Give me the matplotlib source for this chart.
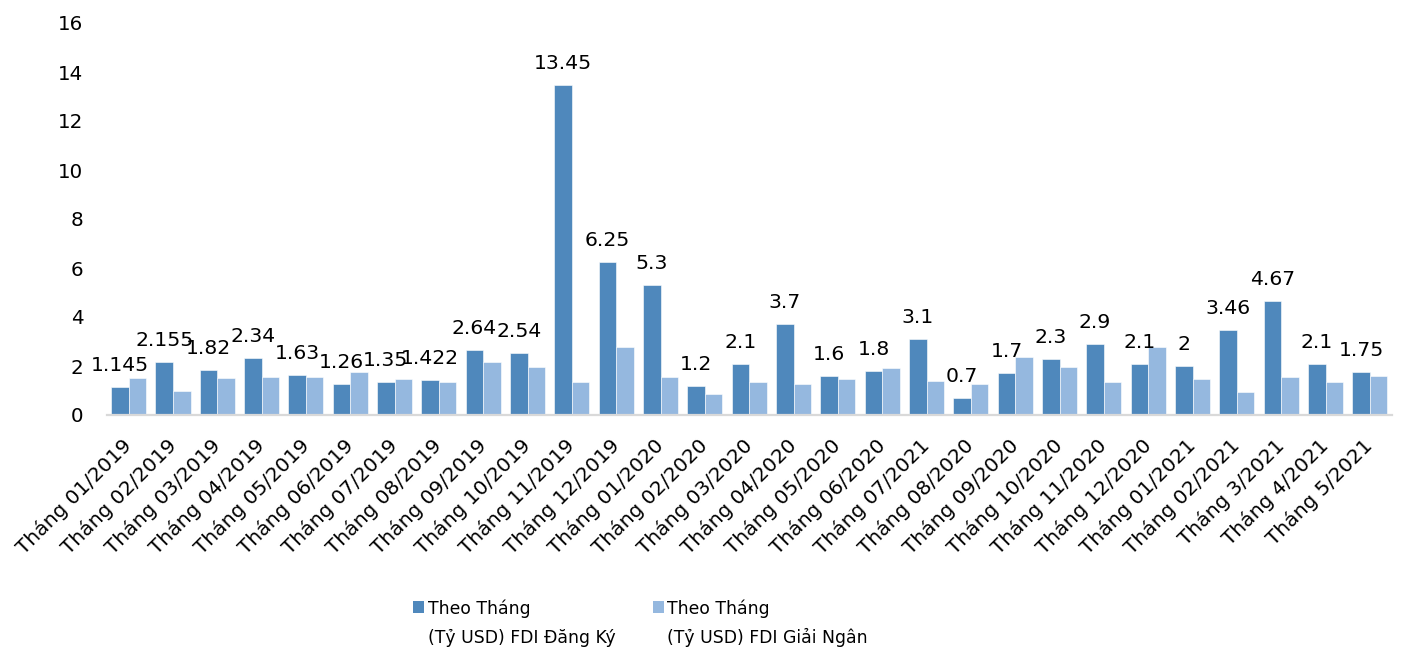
import matplotlib
matplotlib.use("Agg")
import matplotlib.pyplot as plt
import numpy as np
from matplotlib.patches import Rectangle

categories = [
    "Tháng 01/2019", "Tháng 02/2019", "Tháng 03/2019", "Tháng 04/2019",
    "Tháng 05/2019", "Tháng 06/2019", "Tháng 07/2019", "Tháng 08/2019",
    "Tháng 09/2019", "Tháng 10/2019", "Tháng 11/2019", "Tháng 12/2019",
    "Tháng 01/2020", "Tháng 02/2020", "Tháng 03/2020", "Tháng 04/2020",
    "Tháng 05/2020", "Tháng 06/2020", "Tháng 07/2021", "Tháng 08/2020",
    "Tháng 09/2020", "Tháng 10/2020", "Tháng 11/2020", "Tháng 12/2020",
    "Tháng 01/2021", "Tháng 02/2021", "Tháng 3/2021", "Tháng 4/2021",
    "Tháng 5/2021",
]
registered = [1.145, 2.155, 1.82, 2.34, 1.63, 1.26, 1.35, 1.422, 2.64, 2.54,
              13.45, 6.25, 5.3, 1.2, 2.1, 3.7, 1.6, 1.8, 3.1, 0.7, 1.7, 2.3,
              2.9, 2.1, 2, 3.46, 4.67, 2.1, 1.75]
registered_labels = ["1.145", "2.155", "1.82", "2.34", "1.63", "1.26", "1.35",
                     "1.422", "2.64", "2.54", "13.45", "6.25", "5.3", "1.2",
                     "2.1", "3.7", "1.6", "1.8", "3.1", "0.7", "1.7", "2.3",
                     "2.9", "2.1", "2", "3.46", "4.67", "2.1", "1.75"]
disbursed = [1.52, 0.98, 1.51, 1.54, 1.56, 1.76, 1.47, 1.35, 2.16, 1.96,
             1.35, 2.76, 1.56, 0.86, 1.35, 1.27, 1.47, 1.92, 1.40, 1.27,
             2.37, 1.96, 1.35, 2.76, 1.47, 0.94, 1.56, 1.35, 1.59]
legend_line1 = ["Theo Tháng", "Theo Tháng"]
legend_line2 = ["(Tỷ USD) FDI Đăng Ký", "(Tỷ USD) FDI Giải Ngân"]
yticks = [0, 2, 4, 6, 8, 10, 12, 14, 16]

DARK = "#4f88bc"
LIGHT = "#95b8df"

plt.rcParams["font.family"] = ["DejaVu Sans"]

W, H = 1402, 651
fig = plt.figure(figsize=(W / 100, H / 100), dpi=100)
ax = fig.add_axes([106.5 / W, 1 - 415 / H, (1392 - 106.5) / W, (415 - 23) / H])

x = np.arange(len(categories))
bw = 0.395
ax.bar(x - bw / 2, registered, bw, color=DARK, edgecolor="white", linewidth=0.4)
ax.bar(x + bw / 2, disbursed, bw, color=LIGHT, edgecolor="white", linewidth=0.4)

for xi, v, lab in zip(x, registered, registered_labels):
    ax.annotate(lab, (xi - bw / 2, v), xytext=(0, 16), textcoords="offset pixels",
                ha="center", va="baseline", fontsize=14.7, color="black")

ax.set_xlim(-0.5, len(categories) - 0.5)
ax.set_ylim(0, 16)
ax.set_yticks(yticks)
ax.set_yticklabels([str(t) for t in yticks], fontsize=14.3)
ax.set_xticks(x)
ax.set_xticklabels(categories, rotation=45, ha="right", va="center",
                   rotation_mode="anchor", fontsize=14.5)
ax.tick_params(axis="y", length=0, pad=16.5)
ax.tick_params(axis="x", length=0, pad=20)

for s in ["top", "right", "left"]:
    ax.spines[s].set_visible(False)
ax.spines["bottom"].set_color("#d9d9d9")
ax.spines["bottom"].set_linewidth(1.6)

# legend (manual, two-line labels with marker on first line)
marker_x = [413, 653]
text_x = [428, 667]
colors = [DARK, LIGHT]
for mx, tx, c, l1, l2 in zip(marker_x, text_x, colors, legend_line1, legend_line2):
    fig.patches.append(Rectangle((mx / W, 1 - 613 / H), 11 / W, 12 / H,
                                 transform=fig.transFigure, facecolor=c,
                                 edgecolor="none"))
    fig.text(tx / W, 1 - 614 / H, l1, fontsize=12.4, ha="left", va="baseline")
    fig.text(tx / W, 1 - 643 / H, l2, fontsize=12.4, ha="left", va="baseline")

fig.savefig("out.png", dpi=100)
